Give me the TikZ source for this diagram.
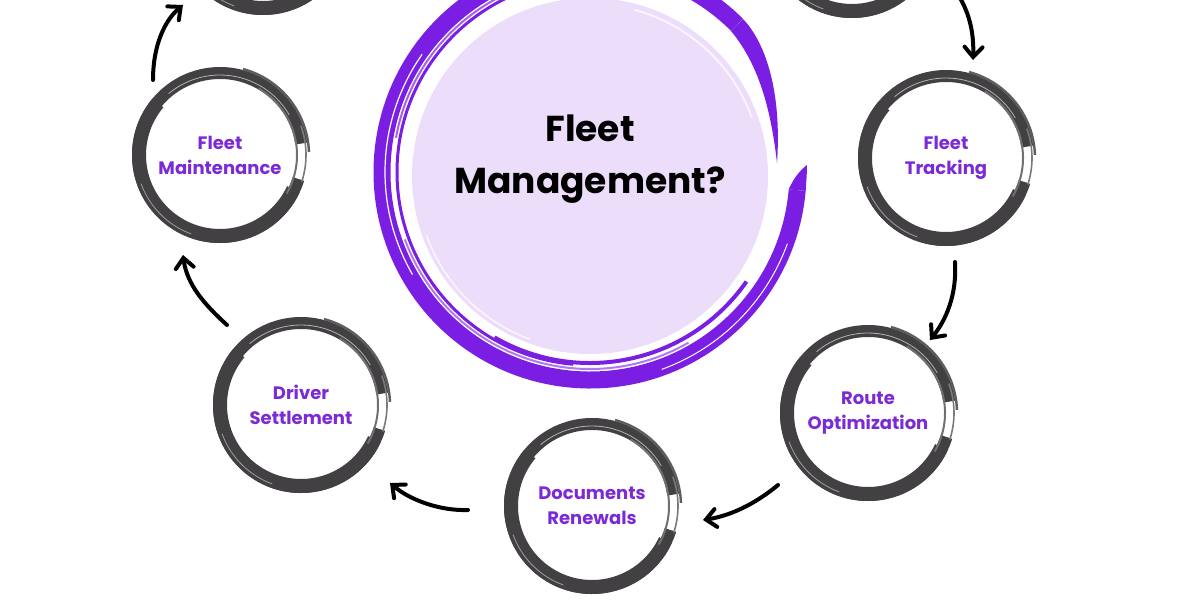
\documentclass[tikz,border=0pt]{standalone}
\usepackage{fontspec}
\setmainfont{Poppins}
\usetikzlibrary{arrows.meta}
\definecolor{ringpurple}{RGB}{122,30,228}
\definecolor{lav}{RGB}{236,221,251}
\definecolor{txtpurple}{RGB}{123,42,214}
\definecolor{ringgray}{RGB}{66,64,66}
\tikzset{
  lbl/.style={align=center, text=txtpurple, font=\fontsize{9}{12.5}\selectfont\bfseries},
  ttl/.style={align=center, text=black, font=\fontsize{18}{26}\selectfont\bfseries},
  arr/.style={draw=black, line width=2pt, line cap=round, -{Straight Barb[length=5pt,width=9pt,line cap=round]}},
}
\newcommand\brushring[1]{%
  \draw[ringgray, line width=6pt] (#1.center) ++(-8:82) arc[start angle=-8,end angle=-343,radius=82];
  \draw[ringgray, line width=7pt] (#1.center) ++(-140:81) arc[start angle=-140,end angle=-335,radius=81];
  \draw[ringgray!85, line width=1.2pt] (#1.center) ++(-2:89) arc[start angle=-2,end angle=-75,radius=89];
  \draw[ringgray!75, line width=1pt] (#1.center) ++(30:77) arc[start angle=30,end angle=-60,radius=77];
  \draw[ringgray!70, line width=0.8pt] (#1.center) ++(18:86) arc[start angle=18,end angle=-20,radius=86];
  \draw[white, opacity=0.6, line width=0.4pt] (#1.center) ++(-30:80) arc[start angle=-30,end angle=-130,radius=80];
  \draw[white, opacity=0.5, line width=0.4pt] (#1.center) ++(-200:84) arc[start angle=-200,end angle=-250,radius=84];
}
\begin{document}
\begin{tikzpicture}[x=0.5pt,y=-0.5pt]
\useasboundingbox (0,0) rectangle (1200,600);
\clip (0,0) rectangle (1200,600);
\fill[white] (0,0) rectangle (1200,600);

% central ring
\coordinate (cen) at (590,172);
\fill[lav] (590,176) circle[radius=178];
\draw[white, opacity=0.7, line width=1pt] (590,176) ++(-20:172) arc[start angle=-20,end angle=-75,radius=172];
\draw[white, opacity=0.7, line width=0.8pt] (590,176) ++(110:174) arc[start angle=110,end angle=160,radius=174];
\draw[ringpurple, line width=8.5pt] (cen) ++(5:208) arc[start angle=5,end angle=315,radius=208];
% outer start (pointed)
\fill[ringpurple] (788.7,189.4) .. controls (795,175) and (803,168) .. (807,165)
  .. controls (807,175) and (806,183) .. (805.7,190.9) -- cycle;
% inner tail (tapered)
\fill[ringpurple] (743,19) .. controls (765,42) and (782,90) .. (777,163)
  .. controls (770,100) and (755,60) .. (731,31) -- cycle;
\draw[ringpurple, line width=1.5pt] (cen) ++(95:193) arc[start angle=95,end angle=245,radius=193];
\draw[ringpurple, line width=2pt] (cen) ++(35:191) arc[start angle=35,end angle=120,radius=191];
\draw[ringpurple!60, line width=1pt] (cen) ++(60:197) arc[start angle=60,end angle=160,radius=197];
\draw[ringpurple!70, line width=1pt] (cen) ++(190:197) arc[start angle=190,end angle=280,radius=197];
\draw[white, line width=0.6pt] (cen) ++(150:205) arc[start angle=150,end angle=215,radius=205];
\draw[white, line width=0.5pt] (cen) ++(20:210) arc[start angle=20,end angle=70,radius=210];
\node[ttl] (fmq) at (590,159) {Fleet\\Management?};

% satellite circles
\node[lbl] (tl) at (263,-73) {};
\node[lbl] (tr) at (852,-70) {};
\node[lbl] (fm) at (220,155) {Fleet\\Maintenance};
\node[lbl] (ft) at (946,158) {Fleet\\Tracking};
\node[lbl] (ro) at (868,413) {Route\\Optimization};
\node[lbl] (dr) at (592,506) {Documents\\Renewals};
\node[lbl] (ds) at (301,405) {Driver\\Settlement};
\brushring{tl}
\brushring{tr}
\brushring{fm}
\brushring{ft}
\brushring{ro}
\brushring{dr}
\brushring{ds}

% arrows
\coordinate (a1s) at (153,80);  \coordinate (a1e) at (183,5);
\coordinate (a2s) at (960,-2);  \coordinate (a2e) at (973,60);
\coordinate (a3s) at (955,262); \coordinate (a3e) at (930,340);
\coordinate (a4s) at (778,485); \coordinate (a4e) at (703,520);
\coordinate (a5s) at (468,510); \coordinate (a5e) at (390,483);
\coordinate (a6s) at (227,325); \coordinate (a6e) at (183,255);
\draw[arr] (a1s) .. controls (153,45) and (165,20) .. (a1e);
\draw[arr] (a2s) .. controls (970,15) and (974,35) .. (a2e);
\draw[arr] (a3s) .. controls (957,295) and (946,320) .. (a3e);
\draw[arr] (a4s) .. controls (760,500) and (735,515) .. (a4e);
\draw[arr] (a5s) .. controls (440,511) and (410,500) .. (a5e);
\draw[arr] (a6s) .. controls (205,305) and (187,285) .. (a6e);
\end{tikzpicture}
\end{document}
